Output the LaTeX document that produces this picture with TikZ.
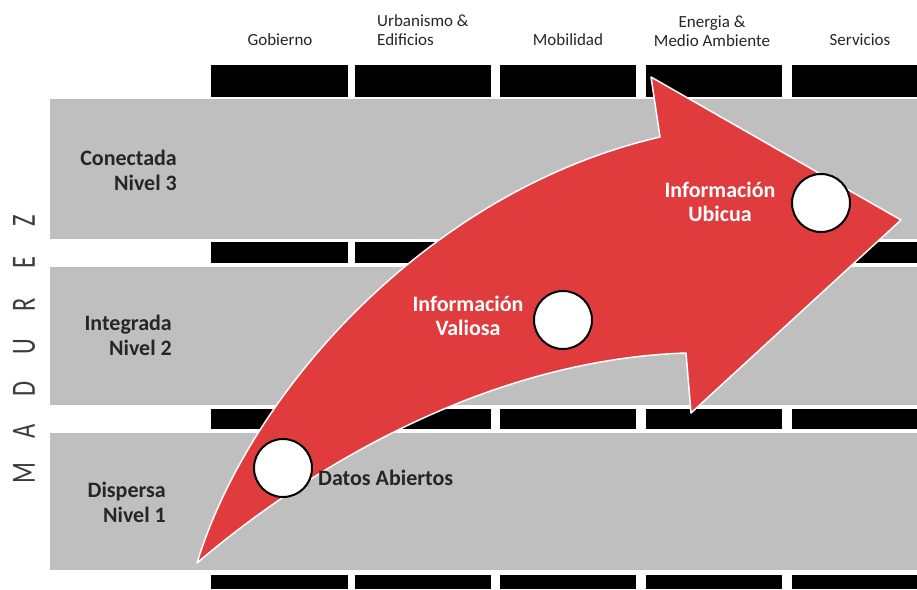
\documentclass[tikz,border=0pt]{standalone}
\usepackage{fontspec}
\setmainfont{Carlito}
\definecolor{bandgray}{RGB}{191,191,191}
\definecolor{arrowred}{RGB}{224,60,62}
\definecolor{labeltext}{RGB}{38,38,38}
\definecolor{axisgray}{RGB}{60,60,60}

\begin{document}
\begin{tikzpicture}[x=1pt, y=-1pt,
    header/.style={text=labeltext, font=\fontsize{17}{19}\selectfont, inner sep=0pt},
    level/.style={text=labeltext, font=\bfseries\fontsize{22}{25}\selectfont, align=right, anchor=east, inner sep=0pt},
    stage/.style={text=white, font=\bfseries\fontsize{22}{24}\selectfont, align=center, inner sep=0pt},
    madurez/.style={text=axisgray, font=\fontsize{34}{34}\selectfont, rotate=90, xscale=0.72, inner sep=0pt},
    dot/.style={circle, draw=black, line width=2pt, fill=white, minimum size=58pt, inner sep=0pt},
    bar/.style={fill=black},
    band/.style={fill=bandgray}]
    \useasboundingbox (0,0) rectangle (917,589);

    % Level bands
    \fill[band] (50,99) rectangle (917,239);
    \fill[band] (50,267) rectangle (917,405);
    \fill[band] (50,433) rectangle (917,570);

    % Black bars under each area
    \foreach \y/\h in {65/97, 242/263, 409/429, 575/589}
        \foreach \x/\w in {211/348, 355/491, 500/636, 646/782, 792/917}
            \fill[bar] (\x,\y) rectangle (\w,\h);

    % Areas
    \node[header] (gob) at (280,40) {Gobierno};
    \node[header, align=left, anchor=west] (urb) at (377,30) {Urbanismo \&\\Edificios};
    \node[header] (mob) at (568,40) {Mobilidad};
    \node[header, align=center] (ene) at (712,31) {Energia \&\\Medio Ambiente};
    \node[header] (ser) at (860,40) {Servicios};

    % Maturity axis
    \foreach \l [count=\i from 0] in {M,A,D,U,R,E,Z}
        \node[madurez] (mz\i) at (24,473-42*\i) {\l};

    % Levels
    \node[level] (lvl3) at (177,170) {Conectada\\Nivel 3};
    \node[level] (lvl2) at (172,335) {Integrada\\Nivel 2};
    \node[level] (lvl1) at (166,502) {Dispersa\\Nivel 1};

    % Curved arrow
    \draw[white, line width=1.5pt, fill=arrowred, line join=round]
        (197,563) .. controls (250,390) and (430,190) .. (660,137)
        -- (651,77) -- (901,220) -- (691,413) -- (686,353)
        .. controls (480,360) and (300,475) .. (197,563) -- cycle;

    % Stages
    \node[dot] (datos) at (283,468) {};
    \node[dot] (valiosa) at (563,320) {};
    \node[dot] (ubicua) at (821,203) {};
    \node[level, anchor=west] (tdat) at (318,478) {Datos Abiertos};
    \node[stage] (tval) at (468,316) {Información\\Valiosa};
    \node[stage] (tubi) at (720,202) {Información\\Ubicua};
\end{tikzpicture}
\end{document}
